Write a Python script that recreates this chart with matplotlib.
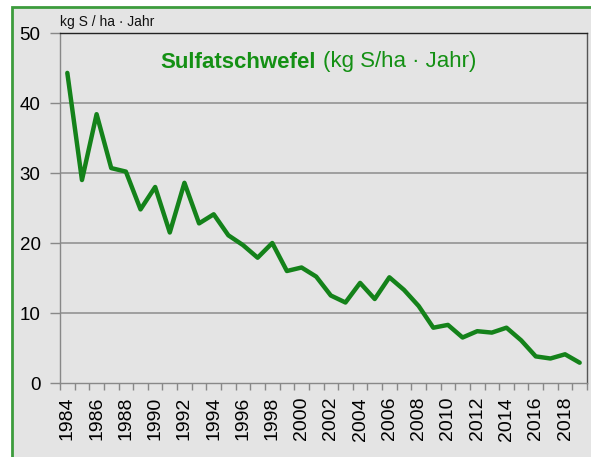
import matplotlib
matplotlib.use("Agg")
import matplotlib.pyplot as plt
from matplotlib.patches import Rectangle

years = list(range(1984, 2020))
values = [44.3, 29.0, 38.4, 30.7, 30.2, 24.8, 28.0, 21.5, 28.6, 22.8,
          24.1, 21.1, 19.7, 17.9, 20.0, 16.0, 16.5, 15.2, 12.5, 11.5,
          14.3, 12.0, 15.1, 13.3, 11.0, 7.9, 8.3, 6.5, 7.4, 7.2,
          7.9, 6.1, 3.8, 3.5, 4.1, 2.9]
yticks = [0, 10, 20, 30, 40, 50]
xlabels = [str(y) if (y % 2 == 0) else "" for y in years]

plt.rcParams['font.family'] = ['Liberation Sans', 'DejaVu Sans']

W, H = 591, 457
fig = plt.figure(figsize=(W / 100, H / 100), dpi=100)
fig.patch.set_facecolor('white')
bg = '#e4e4e4'
fig.patches.append(Rectangle((12 / W, -0.05), 1.2, 1 - 7 / H + 0.05,
                             transform=fig.transFigure, facecolor=bg,
                             edgecolor='#3c9c3c', linewidth=2, zorder=-10))

ax = fig.add_axes([60 / W, 1 - 383 / H, (587 - 60) / W, (383 - 33) / H])
ax.set_zorder(1)
ax.set_facecolor(bg)
x = list(range(len(years)))
ax.plot(x, values, color='#14821a', linewidth=3.2, solid_joinstyle='round',
        solid_capstyle='round', zorder=3)

ax.set_xlim(-0.5, len(years) - 0.5)
ax.set_ylim(0, 50)
ax.set_yticks(yticks)
ax.set_yticklabels([str(v) for v in yticks], fontsize=13.5)
ax.set_xticks(x)
ax.set_xticklabels(xlabels, rotation=90, fontsize=14)
ax.set_xticks([i - 0.5 for i in range(len(years) + 1)], minor=True)
ax.tick_params(axis='x', which='major', length=0, pad=10)
ax.tick_params(axis='x', which='minor', length=5, color='#888888', width=1)
ax.tick_params(axis='y', length=7, color='#888888', width=1, pad=7)

for v in yticks[1:-1]:
    ax.axhline(v, color='#999999', linewidth=1.3, zorder=1)
ax.spines['top'].set_color('#222222')
ax.spines['right'].set_color('#555555')
ax.spines['left'].set_color('#888888')
ax.spines['bottom'].set_color('#888888')
for s in ax.spines.values():
    s.set_linewidth(1)

ax.text(0.0, 1.012, "kg S / ha \u00b7 Jahr", transform=ax.transAxes,
        fontsize=10, ha='left', va='bottom', color='#111111')

ax.text(160 / W, 1 - 62 / H, "Sulfatschwefel", transform=fig.transFigure,
        fontsize=16, fontweight='bold', color='#149014', ha='left', va='center')
ax.text(476 / W, 1 - 62 / H, "(kg S/ha \u00b7 Jahr)", transform=fig.transFigure,
        fontsize=16, color='#149014', ha='right', va='center')

fig.savefig("out.png", dpi=100, facecolor=fig.get_facecolor())
